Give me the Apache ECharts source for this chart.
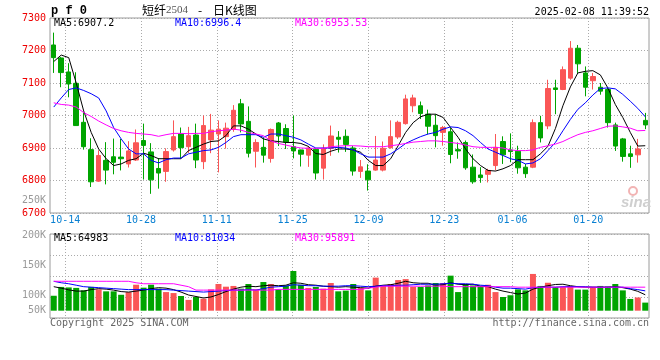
<!DOCTYPE html>
<html><head><meta charset="utf-8">
<script src="https://cdn.jsdelivr.net/npm/echarts@6/dist/echarts.min.js"></script>
<style>html,body{margin:0;padding:0;background:#fff}#c{width:660px;height:360px}</style>
</head><body><div id="c"></div>
<script>
// ---- data ----
const dates = ['10-10','10-11','10-14','10-15','10-16','10-17','10-18','10-21','10-22','10-23','10-24','10-25','10-28','10-29','10-30','10-31',
'11-01','11-04','11-05','11-06','11-07','11-08','11-11','11-12','11-13','11-14','11-15','11-18','11-19','11-20','11-21','11-22','11-25','11-26','11-27','11-28','11-29',
'12-02','12-03','12-04','12-05','12-06','12-09','12-10','12-11','12-12','12-13','12-16','12-17','12-18','12-19','12-20','12-23','12-24','12-25','12-26','12-27','12-30','12-31',
'01-02','01-03','01-06','01-07','01-08','01-09','01-10','01-13','01-14','01-15','01-16','01-17','01-20','01-21','01-22','01-23','01-24','01-27',
'02-05','02-06','02-07'];
const dateTicks = ['10-14','10-28','11-11','11-25','12-09','12-23','01-06','01-20'];

const openP = [7217,7177,7134,7099,6979,6895,6798,6862,6873,6872,
6851,6863,6923,6888,6837,6828,6894,6943,6904,6940,
6858,6925,6943,6935,6957,7036,6982,6890,6902,6868,
6977,6960,6904,6894,6878,6896,6838,6899,6933,6936,
6900,6828,6829,6832,6832,6901,6934,6975,7030,7030,
7004,6970,6948,6950,6895,6917,6841,6817,6819,6846,
6920,6894,6890,6841,6841,6978,6968,7085,7080,7115,
7207,7131,7107,7087,7080,6971,6928,6882,6879,6985];
const closeP = [7178,7132,7097,6969,6904,6796,6877,6832,6856,6867,
6891,6916,6908,6802,6823,6889,6935,6901,6938,6863,
6969,6955,6958,6961,7016,6974,6884,6917,6878,6957,
6937,6918,6891,6881,6900,6823,6899,6937,6927,6911,
6829,6842,6802,6863,6899,6935,6979,7051,7054,7006,
6967,6938,6963,6880,6891,6839,6796,6809,6831,6902,
6879,6889,6839,6821,6978,6931,7083,7080,7141,7207,
7159,7087,7120,7075,6978,6906,6874,6874,6897,6971];
const lowP = [7131,7087,7056,6968,6895,6780,6796,6788,6819,6831,
6840,6860,6803,6759,6775,6796,6889,6869,6885,6838,
6835,6884,6825,6898,6950,6948,6871,6840,6855,6855,
6906,6897,6868,6843,6842,6803,6803,6876,6886,6888,
6815,6808,6769,6830,6828,6898,6928,6972,7010,6989,
6942,6902,6907,6853,6867,6833,6790,6793,6794,6831,
6851,6856,6821,6808,6838,6917,6958,7004,7078,7110,
7131,7059,7080,7064,6963,6891,6858,6839,6855,6958];
const highP = [7255,7180,7161,7133,7010,6930,6893,6918,6929,6928,
6921,6957,6975,6915,6869,6899,6985,6963,6965,6975,
7000,7005,6985,6978,7032,7051,7028,6927,6932,6960,
6980,6973,7000,6895,6906,6899,6911,6969,6952,6957,
6906,6863,6850,6937,6920,6985,6984,7064,7064,7043,
7018,7004,6968,6963,6917,6923,6880,6841,6836,6943,
6936,6945,6907,6851,6988,6999,7110,7110,7151,7229,
7217,7151,7131,7100,7085,6978,6931,6907,6928,7008];

const ma5 = [7166,7186,7178,7100,7014,6948,6897,6867,6846,6851,
6862,6867,6884,6877,6867,6867,6867,6867,6892,6902,
6912,6920,6922,6938,6968,6968,6958,6943,6928,6922,
6920,6917,6917,6914,6905,6883,6880,6890,6897,6897,
6894,6887,6862,6846,6846,6867,6907,6948,6978,6996,
7004,7004,6994,6963,6933,6897,6867,6846,6831,6829,
6836,6846,6864,6864,6864,6882,6905,6960,7030,7088,
7131,7136,7138,7125,7085,7034,6994,6948,6906,6907];
const ma10 = [7026,7054,7080,7085,7077,7067,7054,7014,6963,6928,
6897,6882,6882,6862,6854,6864,6869,6869,6882,6887,
6892,6894,6902,6917,6935,6941,6941,6941,6933,6943,
6943,6938,6933,6925,6912,6900,6900,6900,6902,6900,
6894,6882,6872,6872,6872,6882,6897,6914,6925,6935,
6943,6948,6958,6965,6963,6953,6938,6917,6897,6887,
6877,6867,6862,6851,6854,6867,6892,6917,6953,6988,
7019,7039,7063,7083,7085,7082,7065,7044,7022,6996];
const ma30 = [7039,7034,7032,7026,7009,6997,6983,6971,6960,6953,
6948,6945,6943,6941,6936,6941,6945,6945,6944,6945,
6945,6950,6953,6955,6958,6955,6948,6943,6938,6922,
6914,6909,6904,6900,6899,6899,6899,6904,6906,6907,
6907,6906,6904,6904,6904,6907,6910,6914,6918,6920,
6922,6922,6920,6917,6914,6909,6904,6902,6902,6902,
6900,6894,6892,6892,6894,6902,6907,6912,6920,6931,
6941,6948,6953,6960,6967,6968,6965,6961,6953,6954];

const volK = [61,97,95,93,83,97,87,79,79,65,
76,106,94,106,90,76,72,60,44,56,
49,87,109,98,101,90,109,87,117,109,
87,103,162,106,93,97,90,113,79,82,
109,93,83,135,103,109,125,129,97,97,
103,113,113,143,76,109,103,99,106,76,
56,63,87,83,150,101,114,97,97,101,
86,86,97,101,99,109,83,48,54,33];
const volMa5K = [98,92,85,80,80,86,90,88,84,78,
76,80,84,90,94,92,86,76,64,58,
52,56,66,78,88,96,100,98,102,104,
102,104,114,112,106,104,100,98,96,98,
96,94,92,100,104,106,112,120,114,112,
112,104,106,114,108,106,108,100,98,88,
80,74,68,72,88,96,102,107,108,102,
98,96,96,96,96,98,94,88,79,65];
const volMa10K = [120,114,110,104,98,96,94,92,90,88,
86,86,86,86,86,86,84,82,80,78,
76,78,80,82,84,84,86,84,90,96,
98,100,106,104,102,102,100,100,100,102,
102,100,98,100,102,102,104,104,106,108,
108,108,110,112,110,110,108,104,102,96,
92,92,90,88,94,96,96,96,98,98,
98,98,96,96,96,96,96,90,86,81];
const volMa30K = [120,120,120,120,120,120,120,120,120,120,
120,114,110,110,110,110,110,104,98,84,
84,84,84,84,84,84,84,84,84,84,
87,87,87,87,87,87,87,87,87,87,
87,87,92,96,100,100,100,100,100,100,
100,100,100,98,98,98,98,98,98,98,
98,98,96,96,96,96,96,96,96,96,
96,96,96,96,96,96,96,96,96,96];

const priceMin = 6700, priceMax = 7300, priceStep = 100;
const legendMain = ['MA5:6907.2', 'MA10:6996.4', 'MA30:6953.53'];
const legendVol = ['MA5:64983', 'MA10:81034', 'MA30:95891'];
const volTickLabels = ['200K', '150K', '100K', '50K'];
const titleCode = 'p f 0', titleName = '短纤', titleContract = '2504', titleKind = '日K线图';
const stamp = '2025-02-08 11:39:52';

// ---- styles ----
const MONO = '"DejaVu Sans Mono", monospace';
const RED = '#fa5656', GREEN = '#00a400';
const LINE_COLORS = ['#000000', '#0000ff', '#ff00ff'];
const GRID_LINE = {color: '#aaaaaa', type: [1, 2], width: 1};
const tickFn = (idx, val) => dateTicks.includes(val);

const candles = openP.map((o, i) => [o, closeP[i], lowP[i], highP[i]]);
const vols = volK.map((v, i) => ({value: v * 1000, itemStyle: {color: closeP[i] >= openP[i] ? RED : GREEN}}));
const k2 = a => a.map(v => v * 1000);

const chart = echarts.init(document.getElementById('c'), null, {renderer: 'canvas'});

function lineSeries(data, color, xi, yi) {
  return {type: 'line', data, xAxisIndex: xi, yAxisIndex: yi, showSymbol: false, symbol: 'none', silent: true,
    lineStyle: {color, width: 1}, z: 3, animation: false};
}
function txt(text, x, y, color, align, font) {
  return {type: 'text', z: 10, silent: true, style: {text, x, y, fill: color, align: align || 'left', verticalAlign: 'middle', font: font || ('10px ' + MONO)}};
}

const option = {
  animation: false,
  backgroundColor: '#ffffff',
  grid: [
    {left: 50, top: 18, width: 599, height: 195, show: true, borderColor: '#9a9a9a', borderWidth: 1, backgroundColor: 'transparent', outerBoundsMode: 'none', containLabel: false},
    {left: 50, top: 234, width: 599, height: 84, show: true, borderColor: '#9a9a9a', borderWidth: 1, backgroundColor: 'transparent', outerBoundsMode: 'none', containLabel: false}
  ],
  xAxis: [
    {type: 'category', gridIndex: 0, data: dates, boundaryGap: true, show: false},
    {type: 'category', gridIndex: 0, data: dates, boundaryGap: false, position: 'bottom',
      axisLine: {show: false}, axisTick: {show: false, interval: tickFn},
      axisLabel: {show: true, interval: tickFn, color: '#0a80d2', fontFamily: MONO, fontSize: 10, margin: 2},
      splitLine: {show: true, interval: tickFn, lineStyle: GRID_LINE}},
    {type: 'category', gridIndex: 1, data: dates, boundaryGap: true, show: false},
    {type: 'category', gridIndex: 1, data: dates, boundaryGap: false,
      axisLine: {show: false}, axisTick: {show: false, interval: tickFn}, axisLabel: {show: false, interval: tickFn},
      splitLine: {show: true, interval: tickFn, lineStyle: GRID_LINE}}
  ],
  yAxis: [
    {type: 'value', gridIndex: 0, position: 'left', min: priceMin, max: priceMax, interval: priceStep,
      axisLine: {show: false}, axisTick: {show: false},
      axisLabel: {color: '#ee0000', fontFamily: MONO, fontSize: 10, margin: 4, padding: [0, 0, 4, 0], formatter: v => String(v)},
      splitLine: {show: true, lineStyle: GRID_LINE}},
    {type: 'value', gridIndex: 1, position: 'left', min: -29800, max: 313000, show: false, splitLine: {show: false}},
    {type: 'value', gridIndex: 1, position: 'left', offset: 0, min: 62.8, max: 202.8, splitNumber: 3,
      axisLine: {show: false}, axisTick: {show: false}, splitLine: {show: false},
      axisLabel: {color: '#9a9a9a', fontFamily: MONO, fontSize: 10, margin: 4, padding: [0, 0, 10, 0],
        showMinLabel: false, showMaxLabel: false,
        formatter: v => (volTickLabels.includes(v + 'K') ? v + 'K' : '')}},
    {type: 'value', gridIndex: 1, position: 'right', min: 0, max: 84, interval: 21,
      axisLine: {show: false}, axisTick: {show: false}, axisLabel: {show: false},
      splitLine: {show: true, lineStyle: GRID_LINE}}
  ],
  series: [
    {type: 'candlestick', data: candles, xAxisIndex: 0, yAxisIndex: 0, barWidth: 5, silent: true, z: 2,
      itemStyle: {color: RED, color0: GREEN, borderColor: RED, borderColor0: GREEN, borderWidth: 1}},
    lineSeries(ma5, LINE_COLORS[0], 0, 0),
    lineSeries(ma10, LINE_COLORS[1], 0, 0),
    lineSeries(ma30, LINE_COLORS[2], 0, 0),
    {type: 'bar', data: vols, xAxisIndex: 2, yAxisIndex: 1, barWidth: 6, silent: true, z: 2},
    lineSeries(k2(volMa5K), LINE_COLORS[0], 2, 1),
    lineSeries(k2(volMa10K), LINE_COLORS[1], 2, 1),
    lineSeries(k2(volMa30K), LINE_COLORS[2], 2, 1)
  ],
  graphic: [
    txt(titleCode, 51, 11, '#000', 'left', 'bold 12px "Liberation Mono", monospace'),
    txt(titleName, 142, 10, '#000', 'left', '12px "Noto Sans CJK SC"'),
    txt(titleContract, 166, 10, '#555', 'left', '11px "Liberation Serif", serif'),
    txt('-', 198, 10, '#000', 'left', '12px "Noto Sans CJK SC"'),
    txt(titleKind, 213, 10, '#000', 'left', '12px "Noto Sans CJK SC"'),
    txt(stamp, 649, 12, '#000', 'right'),
    txt(legendMain[0], 54, 23.5, LINE_COLORS[0]),
    txt(legendMain[1], 175, 23.5, LINE_COLORS[1]),
    txt(legendMain[2], 295, 23.5, LINE_COLORS[2]),
    txt(legendVol[0], 54, 238, LINE_COLORS[0]),
    txt(legendVol[1], 175, 238, LINE_COLORS[1]),
    txt(legendVol[2], 295, 238, LINE_COLORS[2]),
    txt('250K', 46, 200.7, '#9a9a9a', 'right'),
    txt(volTickLabels[3], 46, 310.3, '#9a9a9a', 'right'),
    txt('Copyright 2025 SINA.COM', 50, 323.5, '#666', 'left'),
    txt('http://finance.sina.com.cn', 649, 323.5, '#666', 'right'),
    {type: 'circle', z: 1, silent: true, shape: {cx: 633, cy: 191, r: 4}, style: {fill: 'none', stroke: '#f2b4b4', lineWidth: 2}},
    txt('sina', 636, 203, '#cfcfcf', 'center', 'italic bold 15px "Liberation Sans", sans-serif')
  ]
};
chart.setOption(option);
</script></body></html>
